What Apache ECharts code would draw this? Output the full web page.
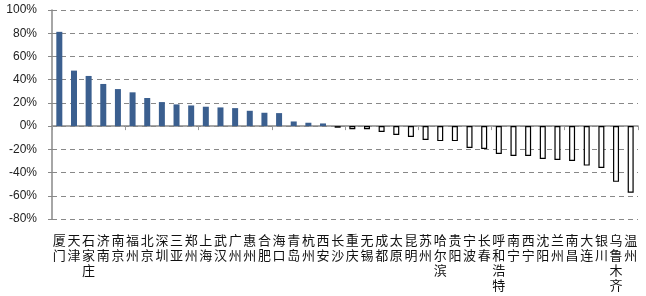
<!DOCTYPE html>
<html><head><meta charset="utf-8">
<script src="https://cdn.jsdelivr.net/npm/echarts@6/dist/echarts.min.js"></script>
<style>html,body{margin:0;padding:0;background:#fff}#c{width:646px;height:296px}</style>
</head><body><div id="c"></div>
<script>
const categories = ["厦门","天津","石家庄","济南","南京","福州","北京","深圳","三亚","郑州","上海","武汉","广州","惠州","合肥","海口","青岛","杭州","西安","长沙","重庆","无锡","成都","太原","昆明","苏州","哈尔滨","贵阳","宁波","长春","呼和浩特","南宁","西宁","沈阳","兰州","南昌","大连","银川","乌鲁木齐","温州"];
const values = [81.2,47.8,43.2,36.3,31.9,29.1,24.2,20.7,18.7,17.8,16.7,16.1,15.5,13.2,11.5,11.2,4.0,2.9,2.3,-1.4,-2.6,-2.6,-5.1,-7.7,-9.4,-12.0,-12.9,-12.9,-18.9,-19.7,-24.0,-25.7,-25.7,-28.3,-29.1,-30.0,-34.0,-36.0,-48.0,-57.4];
const yMin = -80, yMax = 100, yStep = 20;

const chart = echarts.init(document.getElementById('c'), null, {renderer:'canvas'});
const barData = values.map(v => v >= 0
  ? {value: v, itemStyle: {color: '#3B5F8F', borderColor: '#A9BDD8', borderWidth: 0}}
  : {value: v, itemStyle: {color: '#ffffff', borderColor: '#000000', borderWidth: 1.2}});
chart.setOption({
  animation: false,
  grid: {left: 52, right: 8, top: 10, bottom: 77},
  xAxis: [
    {type: 'category', data: categories, position: 'bottom',
     axisLine: {show: false, onZero: false}, axisTick: {show: false},
     axisLabel: {interval: 0, margin: 14, color: '#111', fontSize: 13, lineHeight: 15,
       fontFamily: '"Noto Sans CJK SC"', verticalAlign: 'top',
       formatter: s => s.split('').join('\n')}},
    {type: 'category', data: categories, position: 'bottom',
     axisLine: {show: true, onZero: true, lineStyle: {color: '#888', width: 1.5}},
     axisTick: {show: true, length: 4, lineStyle: {color: '#999'}},
     axisLabel: {show: false}}
  ],
  yAxis: {type: 'value', min: yMin, max: yMax, interval: yStep,
    axisLine: {show: true, lineStyle: {color: '#888', width: 1.5}},
    axisTick: {show: true, length: 4, lineStyle: {color: '#888'}},
    axisLabel: {margin: 15, color: '#222', fontSize: 12, fontFamily: '"Liberation Sans", Arial', formatter: v => v + '%'},
    splitLine: {show: true, lineStyle: {color: '#888', type: [5, 4], width: 1}}},
  series: [{type: 'bar', data: barData, xAxisIndex: 0, barWidth: 6}]
});
</script></body></html>
